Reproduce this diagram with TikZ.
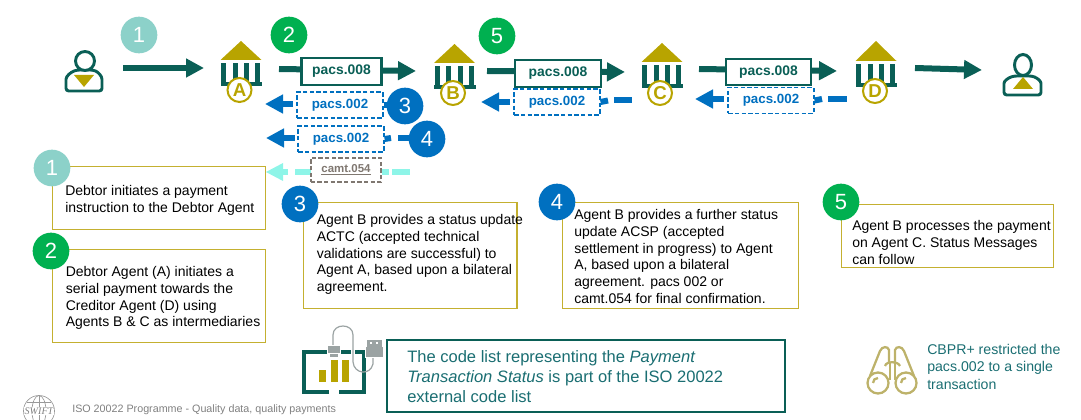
\documentclass[tikz,border=0pt]{standalone}
\usepackage{fontspec}
\setmainfont{Liberation Sans}
\newfontfamily\swiftfont{Liberation Serif}
\usetikzlibrary{arrows.meta}
\definecolor{tealdk}{HTML}{0A5F56}
\definecolor{gold}{HTML}{B8A400}
\definecolor{boxgold}{HTML}{C4B030}
\definecolor{bino}{HTML}{BDB26A}
\definecolor{blu}{HTML}{0070C0}
\definecolor{mint}{HTML}{8CD1C9}
\definecolor{grn}{HTML}{00B050}
\definecolor{cyanl}{HTML}{8EF5E8}
\definecolor{gry}{HTML}{7F7770}
\definecolor{foot}{HTML}{808080}
\definecolor{txtteal}{HTML}{1A6E72}
\definecolor{plug}{HTML}{9BA3A3}
\newcommand{\bankicon}[7]{%
  \fill[gold] (#2-20.5,#4) -- (#2,#3) -- (#2+20.5,#4) -- cycle;
  \foreach \dx in {-17.5,-6,5.5,16.5} \fill[tealdk] (#2+\dx-2.5,#4+3) rectangle (#2+\dx+2.5,#5+2);
  \fill[tealdk] (#2-20.5,#5) rectangle (#2+21,#5+4.5);
  \node[bankletter] (#1) at (#6,#7) {\bankletter};
}
\tikzset{
  x=0.75pt,y=-0.75pt,
  bankletter/.style={circle,draw=gold,line width=1.5pt,fill=white,text=gold,minimum size=18pt,inner sep=0pt,font=\fontsize{14}{14}\selectfont\bfseries},
  numc/.style={circle,fill=#1,text=white,minimum size=27.5pt,inner sep=0pt,font=\fontsize{16.5}{16.5}\selectfont},
  fat/.style={draw=#1,line width=4.5pt,-{Triangle[length=13.5pt,width=13.5pt]}},
  stub/.style={draw=#1,line width=4.5pt},
  msg/.style={draw=tealdk,line width=1.7pt,fill=white,text=tealdk,minimum width=60pt,minimum height=20pt,inner sep=0pt,font=\fontsize{10.4}{11}\selectfont\bfseries},
  st/.style={draw=blu,line width=1.3pt,dash pattern=on 3.2pt off 1.8pt,fill=white,text=blu,minimum width=64pt,minimum height=19.5pt,inner sep=0pt,font=\fontsize{10}{11}\selectfont\bfseries},
  info/.style={draw=boxgold,line width=0.9pt,anchor=north west,inner sep=0pt},
  infotxt/.style={anchor=north west,inner sep=0pt,align=left,font=\fontsize{10.5}{12.5}\selectfont,text=black},
  person/.style={tealdk,line width=2.2pt},
}
\begin{document}
\begin{tikzpicture}
\useasboundingbox (0,0) rectangle (1081,420);
\clip (0,0) rectangle (1081,420);
% persons
\draw[person,rounded corners=2pt] (66,91) -- (66,82) .. controls (66,76) and (71,72) .. (77,70) -- (93,70) .. controls (98,72) and (102,76) .. (102,82) -- (102,91) -- cycle;
\draw[person,fill=white] (85,61) circle (9.5);
\fill[gold] (74,75) -- (94,75) -- (84,87) -- cycle;
\draw[person,rounded corners=2pt] (1004,95) -- (1004,86) .. controls (1004,81) and (1008,78) .. (1014,76) -- (1032,76) .. controls (1037,78) and (1041,81) .. (1041,86) -- (1041,95) -- cycle;
\draw[person,fill=white] (1023,65) ellipse (8.5 and 10.5);
\fill[gold] (1013,89) -- (1033,89) -- (1023,77) -- cycle;
% banks
\def\bankletter{A}\bankicon{bankA}{241}{41}{60}{82}{239.5}{90}
\def\bankletter{B}\bankicon{bankB}{454.5}{44}{63}{85}{453}{93}
\def\bankletter{C}\bankicon{bankC}{662}{43}{62}{84}{660}{93}
\def\bankletter{D}\bankicon{bankD}{876}{41}{61}{83}{875}{91}
% coordinates of free ends
\coordinate (e1s) at (123,68); \coordinate (e1t) at (204,68);
\coordinate (e2s) at (279,69); \coordinate (e2t) at (416,71);
\coordinate (e5s) at (487,71); \coordinate (e5t) at (625,72);
\coordinate (e6s) at (699,69); \coordinate (e6t) at (837,71);
\coordinate (e7s) at (915,68); \coordinate (e7t) at (982,70);
% main arrows
\draw[fat=tealdk] (e1s) -- (e1t);
\draw[fat=tealdk] (e2s) -- (e2t);
\draw[fat=tealdk] (e5s) -- (e5t);
\draw[fat=tealdk] (e6s) -- (e6t);
\draw[fat=tealdk] (e7s) -- (e7t);
\node[msg] (m1) at (341.5,71.5) {pacs.008};
\node[msg,minimum width=64pt] (m2) at (558,73.5) {pacs.008};
\node[msg,minimum width=64pt] (m3) at (768.5,72) {pacs.008};
% status arrows
\coordinate (s1t) at (265,104); \coordinate (s1s) at (293,104);
\coordinate (s2t) at (266,138); \coordinate (s2s) at (295,138);
\coordinate (s4t) at (481,102); \coordinate (s4s) at (510,102);
\coordinate (s5t) at (695,99); \coordinate (s5s) at (724,99);
\draw[fat=blu] (s1s) -- (s1t);
\draw[fat=blu] (s2s) -- (s2t);
\draw[fat=blu] (s4s) -- (s4t);
\draw[fat=blu] (s5s) -- (s5t);
\fill[cyanl] (266,172) -- (283,163) -- (283,181) -- cycle;
\fill[cyanl] (283,169) rectangle (288,175);
\fill[cyanl] (295,169) rectangle (311,175);
\fill[cyanl] (382,169) rectangle (389,175);
\fill[cyanl] (392,169) rectangle (410,175);
\node[st] (p1) at (340,105) {pacs.002};
\node[st] (p2) at (341,139) {pacs.002};
\node[st] (p3) at (557,102) {pacs.002};
\node[st] (p4) at (771,100.5) {pacs.002};
\node[draw=gry,line width=1.3pt,dash pattern=on 3.2pt off 1.8pt,fill=white,text=gry,minimum width=53pt,minimum height=18pt,inner sep=0pt,font=\fontsize{8.6}{10}\selectfont\bfseries] (cm) at (346,170) {\underline{camt.054}};
\draw[stub=blu] (p1.east) -- (393,105);
\draw[stub=blu] (p2.east) -- (391,138);
\draw[stub=blu] (398,138) -- (412,138);
\draw[stub=blu] (p3.east) -- (608,100.5);
\draw[stub=blu] (614,100.5) -- (632,100.5);
\draw[stub=blu] (p4.east) -- (822,99);
\draw[stub=blu] (828,99) -- (847,99);
% top number circles
\node[numc=mint] (t1) at (139,35) {1};
\node[numc=grn] (t2) at (289,35) {2};
\node[numc=grn] (t5) at (497,36) {5};
\node[numc=blu] (t3) at (405,106) {3};
\node[numc=blu] (t4) at (427,139) {4};
% info boxes
\node[info,minimum width=159.75pt,minimum height=47.25pt] (b1) at (52,166) {};
\node[infotxt] at (65,185) {Debtor initiates a payment\\instruction to the Debtor Agent};
\node[info,minimum width=159.75pt,minimum height=69.75pt] (b2) at (52,249) {};
\node[infotxt] at (65.5,266.5) {Debtor Agent (A) initiates a\\serial payment towards the\\Creditor Agent (D) using\\Agents B \& C as intermediaries};
\node[info,minimum width=160pt,minimum height=79.5pt] (b3) at (303,202) {};
\node[infotxt] at (316.5,214.5) {Agent B provides a status update\\ACTC (accepted technical\\validations are successful) to\\Agent A, based upon a bilateral\\agreement.};
\node[info,minimum width=177pt,minimum height=79.5pt] (b4) at (562,202) {};
\node[infotxt] at (574,209.5) {Agent B provides a further status\\update ACSP (accepted\\settlement in progress) to Agent\\A, based upon a bilateral\\agreement. pacs 002 or\\camt.054 for final confirmation.};
\node[info,minimum width=159pt,minimum height=47.25pt] (b5) at (841,204) {};
\node[infotxt] at (852,220.5) {Agent B processes the payment\\on Agent C. Status Messages\\can follow};
\node[numc=mint] (n1) at (52,168) {1};
\node[numc=grn] (n2) at (51,251) {2};
\node[numc=blu] (n3) at (300,204) {3};
\node[numc=blu] (n4) at (557,202) {4};
\node[numc=grn] (n5) at (841,202) {5};
% code list box
\node[draw=tealdk,line width=1.7pt,fill=white,anchor=north west,minimum width=298.5pt,minimum height=54pt,inner sep=0pt] (code) at (386,339) {};
\node[anchor=north west,inner sep=0pt,align=left,text=txtteal,font=\fontsize{12.4}{15}\selectfont] at (407,350.5) {The code list representing the \textit{Payment}\\\textit{Transaction Status} is part of the ISO 20022\\external code list};
% chart icon
\draw[tealdk,line width=3.6pt] (329,392) -- (304,392) -- (304,352) -- (364,352) -- (364,392) -- (339,392);
\fill[gold] (319,370) rectangle (326,382);
\fill[gold] (331,360) rectangle (337.5,382);
\fill[gold] (342,360) rectangle (348.5,382);
\draw[white,line width=2.6pt] (353,345) -- (353,360);
\draw[plug,line width=0.9pt] (333,346) -- (333,335) .. controls (333,323) and (353,323) .. (353,335) -- (353,362) .. controls (354,374) and (370,376) .. (373,364) -- (373,357);
\fill[white] (327,345) rectangle (341,358);
\fill[plug] (328,346) rectangle (340,352.5);
\fill[plug] (330,353.5) rectangle (338,357);
\fill[white] (365,346) rectangle (384,358);
\fill[plug] (366,347) rectangle (383,357);
\fill[plug] (367,340) rectangle (382,346.5);
\fill[white] (370,342) rectangle (372,344); \fill[white] (376,342) rectangle (378,344);
% binoculars
\begin{scope}[draw=bino,line width=1.7pt]
\draw (878,383) circle (10.5); \draw (906,383) circle (10.5);
\draw (870,376) -- (880,351) .. controls (882,346) and (888,346) .. (889,350) -- (889,362) (895,362) -- (895,350) .. controls (896,346) and (902,346) .. (904,351) -- (914,376);
\draw (890,380) -- (890,363) (895,380) -- (895,363);
\draw (885,366) .. controls (886,361) and (898,361) .. (900,366);
\draw (873,383) .. controls (873,380) and (875,378) .. (878,378);
\draw (901,383) .. controls (901,380) and (903,378) .. (906,378);
\end{scope}
\node[anchor=north west,inner sep=0pt,align=left,text=txtteal,font=\fontsize{10.6}{13.2}\selectfont] (cbpr) at (927,343.5) {CBPR+ restricted the\\pacs.002 to a single\\transaction};
% footer
\begin{scope}[draw=foot!80,line width=0.5pt]
\draw (39,411) circle (15.5);
\draw (39,411) ellipse (7 and 15.5);
\draw (39,395.5) -- (39,426);
\draw (27,402) -- (51,402);
\draw (27,420) -- (51,420);
\end{scope}
\node[fill=white,inner xsep=0.5pt,inner ysep=0.3pt,text=foot,font=\fontsize{7.6}{8}\swiftfont\itshape] (sw) at (39,411) {SWIFT};
\node[anchor=west,inner sep=0pt,text=foot,font=\fontsize{8.05}{9}\selectfont] (footer) at (72,410) {ISO 20022 Programme - Quality data, quality payments};
\end{tikzpicture}
\end{document}
